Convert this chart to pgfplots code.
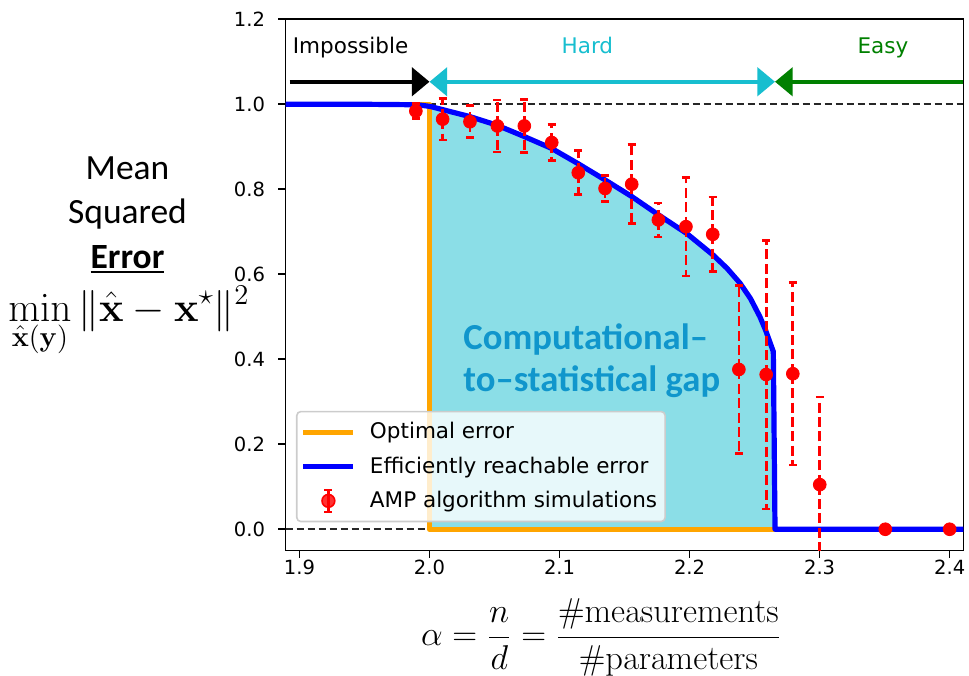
\documentclass[border=0pt]{standalone}
\usepackage[no-math]{fontspec}
\setmainfont{DejaVu Sans}
\newfontfamily\carlito{Carlito}
\usepackage{pgfplots}
\pgfplotsset{compat=1.18}
\usetikzlibrary{arrows.meta}
\definecolor{myorange}{HTML}{FFA500}
\definecolor{tabcyan}{HTML}{17BECF}
\definecolor{easygreen}{HTML}{008000}
\definecolor{gapblue}{RGB}{16,150,204}
\newcommand\ulbox[1]{\setbox0\hbox{#1}\rlap{\rule[-2.6bp]{\wd0}{1.2bp}}\box0}
\pgfplotsset{
  linelegend/.style={legend image code/.code={\draw[##1] (0bp,0bp) -- (25bp,0bp);}},
  amplegend/.style={legend image code/.code={
    \draw[red, line width=1.35bp] (12.5bp,-5.5bp) -- (12.5bp,5.5bp);
    \draw[red, line width=1.35bp] (10.5bp,5.5bp) -- (14.5bp,5.5bp);
    \draw[red, line width=1.35bp] (10.5bp,-5.5bp) -- (14.5bp,-5.5bp);
    \fill[red] (12.5bp,0bp) circle (3.2bp);}},
}

\pgfplotstableread{
x y
1.8894 1.0
1.95 1.0
1.97 0.9995
1.985 0.999
1.9927 0.998
2.0004 0.995
2.0311 0.971
2.0517 0.951
2.0722 0.925
2.094 0.896
2.1144 0.860
2.135 0.822
2.1555 0.783
2.176 0.740
2.1978 0.696
2.2182 0.645
2.2288 0.614
2.2388 0.579
2.2468 0.543
2.2541 0.500
2.2585 0.468
2.2618 0.440
2.2644 0.418
2.2657 0.0
2.4105 0.0
}\bluecurve

\pgfplotstableread{
x y
2.0 0.0
2.0004 0.995
2.0311 0.971
2.0517 0.951
2.0722 0.925
2.094 0.896
2.1144 0.860
2.135 0.822
2.1555 0.783
2.176 0.740
2.1978 0.696
2.2182 0.645
2.2288 0.614
2.2388 0.579
2.2468 0.543
2.2541 0.500
2.2585 0.468
2.2618 0.440
2.2644 0.418
2.2657 0.0
}\gapfill

\pgfplotstableread{
x y e
1.9895 0.984 0.018
2.0101 0.965 0.049
2.0311 0.959 0.0375
2.0522 0.949 0.061
2.0729 0.949 0.063
2.094 0.910 0.043
2.1144 0.839 0.0515
2.135 0.802 0.031
2.1555 0.812 0.093
2.176 0.728 0.040
2.1972 0.712 0.116
2.2178 0.694 0.0875
2.2379 0.376 0.198
2.2589 0.364 0.316
2.2794 0.366 0.215
2.3001 0.105 0.206
2.3505 0.0 0.0
2.4 0.0 0.0
}\ampdata

\begin{document}
\begin{tikzpicture}
\useasboundingbox (-142.85bp,-62.65bp) rectangle (341.65bp,275.25bp);
\begin{axis}[
  at={(0,0)}, anchor=south west,
  scale only axis, width=338.8bp, height=265.6bp,
  xmin=1.8894, xmax=2.4105, ymin=-0.05, ymax=1.2,
  xtick={1.9,2.0,2.1,2.2,2.3,2.4},
  ytick={0,0.2,0.4,0.6,0.8,1.0,1.2},
  xtick pos=bottom, ytick pos=left,
  tick align=outside, major tick length=3.65bp,
  every tick/.style={black, line width=0.8bp},
  axis line style={line width=0.8bp},
  /pgf/number format/assume math mode=true,
  ticklabel style={font=\fontsize{9.8}{11}\selectfont, inner sep=0pt,
    /pgf/number format/fixed, /pgf/number format/fixed zerofill, /pgf/number format/precision=1},
  xticklabel shift=1bp, yticklabel shift=6.5bp,
  legend cell align=left,
  legend style={at={(0.0152,0.263)}, anchor=north west, draw=black!20, line width=0.8bp,
    rounded corners=2bp, fill=white, fill opacity=0.8, text opacity=1, draw opacity=1,
    font=\fontsize{10.8}{12}\selectfont, inner xsep=2bp, inner ysep=3.5bp, row sep=3.5bp,
    column sep=5bp},
]
\addplot[draw=none, fill=tabcyan, fill opacity=0.5, forget plot] table[x=x,y=y] {\gapfill} -- cycle;
\addplot[black!85, line width=1.1bp, dash pattern=on 3.5bp off 2bp, forget plot] coordinates {(1.8894,1) (2.4105,1)};
\addplot[black!85, line width=1.1bp, dash pattern=on 3.5bp off 2bp, forget plot] coordinates {(1.8894,0) (2.4105,0)};
\addplot[myorange, line width=2.6bp, line join=round, linelegend]
  coordinates {(1.8894,1) (2.0,1) (2.0,0) (2.4105,0)};
\addlegendentry{Optimal error}
\addplot[blue, line width=2.6bp, line join=round, linelegend]
  table[x=x,y=y] {\bluecurve};
\addlegendentry{Efficiently reachable error}
\addplot[only marks, mark=*, mark size=3.2bp, color=red,
  mark options={solid, fill=red, draw=red}, amplegend,
  error bars/.cd, y dir=both, y explicit,
  error bar style={red, line width=1.35bp, dash pattern=on 5bp off 2.2bp},
  error mark=|,
  error mark options={red, solid, line width=1.35bp, mark size=2bp}]
  table[x=x, y=y, y error=e] {\ampdata};
\addlegendentry{AMP algorithm simulations}
\draw[black, line width=2.25bp, -{Triangle[length=8.8bp,width=14bp]}] (axis cs:1.8925,1.053) -- (axis cs:2.0,1.053);
\draw[tabcyan, line width=2.25bp, {Triangle[length=8.8bp,width=14bp]}-{Triangle[length=8.8bp,width=14bp]}] (axis cs:2.0,1.053) -- (axis cs:2.2657,1.053);
\draw[easygreen, line width=2.25bp, -{Triangle[length=8.8bp,width=14bp]}] (axis cs:2.4105,1.053) -- (axis cs:2.2657,1.053);
\node[anchor=base west, inner sep=0pt, font=\fontsize{10.8}{12}\selectfont] at (axis cs:1.8946,1.12) {Impossible};
\node[anchor=base, inner sep=0pt, font=\fontsize{10.8}{12}\selectfont, text=tabcyan] at (axis cs:2.1214,1.12) {Hard};
\node[anchor=base, inner sep=0pt, font=\fontsize{10.8}{12}\selectfont, text=easygreen] at (axis cs:2.3487,1.12) {Easy};
\end{axis}
\node[anchor=base west, inner sep=0pt, text=gapblue, font=\carlito\bfseries\fontsize{18.4}{21}\selectfont] at (88.65bp,100.7bp) {Computational–};
\node[anchor=base west, inner sep=0pt, text=gapblue, font=\carlito\bfseries\fontsize{18.4}{21}\selectfont] at (88.65bp,79.5bp) {to–statistical gap};
\node[anchor=base, inner sep=0pt, font=\carlito\fontsize{17.8}{20}\selectfont] at (-79.1bp,185.7bp) {Mean};
\node[anchor=base, inner sep=0pt, font=\carlito\fontsize{17.8}{20}\selectfont] at (-79.1bp,163.6bp) {Squared};
\node[anchor=base, inner sep=0pt, font=\carlito\bfseries\fontsize{17.8}{20}\selectfont] at (-79.1bp,141.2bp) {\ulbox{Error}};
\node[anchor=base, inner sep=0pt, font=\fontsize{19.4}{23}\selectfont] at (-78.4bp,114.5bp) {$\displaystyle\min_{\hat{\mathbf{x}}(\mathbf{y})}\|\hat{\mathbf{x}}-\mathbf{x}^{\star}\|^{2}$};
\node[inner sep=0pt, font=\fontsize{16.6}{20}\selectfont] at (157.8bp,-43.3bp) {$\displaystyle\alpha=\frac{n}{d}=\frac{\#\mathrm{measurements}}{\#\mathrm{parameters}}$};
\end{tikzpicture}
\end{document}
